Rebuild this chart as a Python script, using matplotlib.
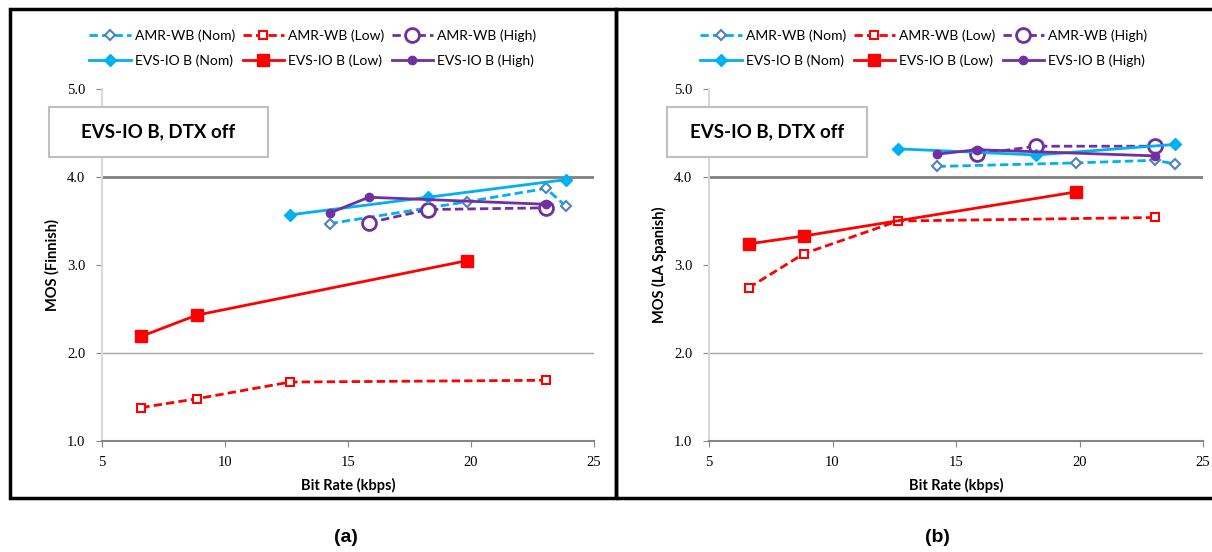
import matplotlib
matplotlib.use('Agg')
import matplotlib.pyplot as plt
from matplotlib.patches import Rectangle

W, H = 1212, 552

# bit rates (kbps)
amr_nom_x = [14.25, 19.85, 23.05, 23.85]
amr_low_x = [6.6, 8.85, 12.65, 23.05]
amr_high_x = [15.85, 18.25, 23.05]
evs_nom_x = [12.65, 18.25, 23.85]
evs_low_x = [6.6, 8.85, 19.85]
evs_high_x = [14.25, 15.85, 23.05]

# MOS, Finnish
fi_amr_nom = [3.47, 3.72, 3.87, 3.67]
fi_amr_low = [1.38, 1.48, 1.67, 1.69]
fi_amr_high = [3.48, 3.63, 3.65]
fi_evs_nom = [3.57, 3.77, 3.97]
fi_evs_low = [2.19, 2.43, 3.05]
fi_evs_high = [3.59, 3.77, 3.69]

# MOS, LA Spanish
es_amr_nom = [4.12, 4.16, 4.19, 4.15]
es_amr_low = [2.74, 3.13, 3.50, 3.54]
es_amr_high = [4.26, 4.35, 4.35]
es_evs_nom = [4.32, 4.25, 4.37]
es_evs_low = [3.24, 3.33, 3.83]
es_evs_high = [4.26, 4.31, 4.24]

x_ticks = [5, 10, 15, 20, 25]
y_ticks = [1.0, 2.0, 3.0, 4.0, 5.0]

CYAN = '#00b0f0'
STEEL = '#4f81bd'
RED = '#ff0000'
PURPLE = '#7030a0'
DASH = (0, (3, 1.5))


def fx(px):
    return px / W


def fy(py):
    return 1 - py / H


fig = plt.figure(figsize=(W / 100, H / 100), dpi=100)


def panel(ax_left, ax_right, data, ylabel, box_left, box_right, leg_cx, tag, tag_x):
    amr_nom, amr_low, amr_high, evs_nom, evs_low, evs_high = data
    ax = fig.add_axes([fx(ax_left), fy(441), fx(ax_right - ax_left), (441 - 89) / H])
    ax.axhline(2.0, color='#a6a6a6', lw=1.0, zorder=1)
    ax.axhline(4.0, color='#808080', lw=2.0, zorder=1)

    h1, = ax.plot(amr_nom_x, amr_nom, color=CYAN, ls=DASH, lw=2, marker='D', ms=5,
                  mfc='white', mec=STEEL, mew=1.5, label='AMR-WB (Nom)', zorder=3)
    h2, = ax.plot(amr_low_x, amr_low, color=RED, ls=DASH, lw=2, marker='s', ms=6,
                  mfc='white', mec=RED, mew=1.5, label='AMR-WB (Low)', zorder=3)
    h3, = ax.plot(amr_high_x, amr_high, color=PURPLE, ls=DASH, lw=2, marker='o', ms=10,
                  mfc='white', mec=PURPLE, mew=2, label='AMR-WB (High)', zorder=3)
    h4, = ax.plot(evs_nom_x, evs_nom, color=CYAN, lw=2, marker='D', ms=6,
                  mfc=CYAN, mec=CYAN, label='EVS-IO B (Nom)', zorder=4)
    h5, = ax.plot(evs_low_x, evs_low, color=RED, lw=2, marker='s', ms=9,
                  mfc=RED, mec=RED, label='EVS-IO B (Low)', zorder=4)
    h6, = ax.plot(evs_high_x, evs_high, color=PURPLE, lw=2, marker='o', ms=6,
                  mfc=PURPLE, mec=PURPLE, label='EVS-IO B (High)', zorder=4)

    ax.set_xlim(5, 25)
    ax.set_ylim(1, 5)
    ax.set_xticks(x_ticks)
    ax.set_xticklabels([str(v) for v in x_ticks], family='Liberation Serif', fontsize=10.5)
    ax.set_yticks(y_ticks)
    ax.set_yticklabels(['%.1f' % v for v in y_ticks], family='Liberation Serif', fontsize=10.5)
    ax.tick_params(axis='x', length=4, color='#868686', pad=7)
    ax.tick_params(axis='y', length=4, color='#868686', pad=8)
    for s in ['top', 'right']:
        ax.spines[s].set_visible(False)
    ax.spines['left'].set_color('#d9d9d9')
    ax.spines['left'].set_linewidth(1.5)
    ax.spines['bottom'].set_color('#868686')
    ax.spines['bottom'].set_linewidth(1.5)
    ax.patch.set_alpha(0)

    ax.set_ylabel(ylabel, family='Lato', fontweight='bold', fontsize=10.5, labelpad=5)
    ax.set_xlabel('Bit Rate (kbps)', family='Lato', fontweight='bold', fontsize=10.5, labelpad=6)

    handles = [h1, h4, h2, h5, h3, h6]
    ax.legend(handles=handles, loc='center', ncol=3, frameon=False,
              bbox_to_anchor=(fx(leg_cx), fy(48)), bbox_transform=fig.transFigure,
              prop={'family': 'Lato', 'size': 10}, handlelength=3.0,
              handletextpad=0.3, columnspacing=0.5, labelspacing=0.9)

    fig.add_artist(Rectangle((fx(box_left), fy(157)), fx(box_right - box_left), 50 / H,
                             transform=fig.transFigure, facecolor='white',
                             edgecolor='#bfbfbf', lw=1.5, zorder=2))
    fig.text(fx((box_left + box_right) / 2), fy(132), 'EVS-IO B, DTX off',
             ha='center', va='center', family='Lato', fontweight='bold', fontsize=13.5, zorder=3)

    fig.text(fx(tag_x), fy(538), tag, ha='center', va='center',
             family='Liberation Sans', fontweight='bold', fontsize=14)
    return ax


panel(102, 594, (fi_amr_nom, fi_amr_low, fi_amr_high, fi_evs_nom, fi_evs_low, fi_evs_high),
      'MOS (Finnish)', 49, 268, 313, '(a)', 346)
panel(709, 1203, (es_amr_nom, es_amr_low, es_amr_high, es_evs_nom, es_evs_low, es_evs_high),
      'MOS (LA Spanish)', 667, 867, 924, '(b)', 937)

# panel frames
fig.add_artist(Rectangle((fx(10), fy(498)), fx(616 - 10), (498 - 9) / H,
                         transform=fig.transFigure, fill=False, edgecolor='black', lw=2.5, zorder=5))
fig.add_artist(Rectangle((fx(616), fy(498)), fx(1230 - 616), (498 - 9) / H,
                         transform=fig.transFigure, fill=False, edgecolor='black', lw=2.5, zorder=5))

fig.savefig('out.png', dpi=100)
